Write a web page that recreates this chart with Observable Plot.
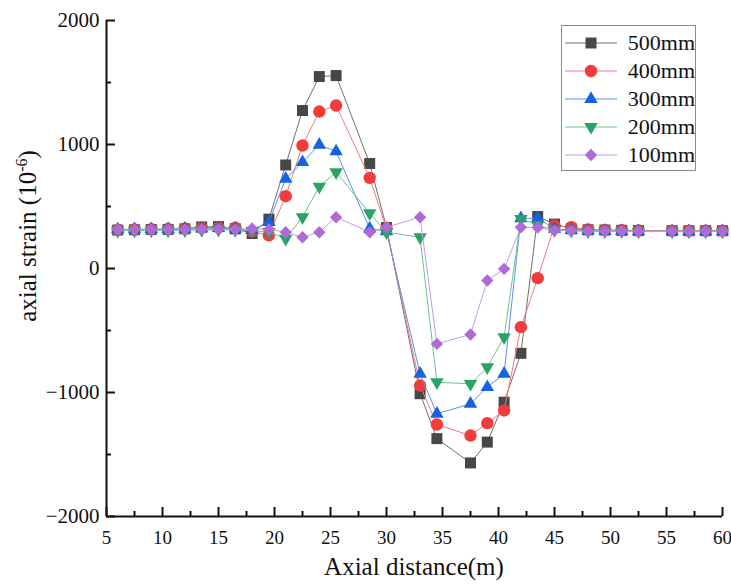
<!DOCTYPE html>
<html>
<head>
<meta charset="utf-8">
<script src="https://cdn.jsdelivr.net/npm/d3@7"></script>
<script src="https://cdn.jsdelivr.net/npm/@observablehq/plot@0.6"></script>
<style>
  html, body { margin: 0; padding: 0; background: #fff; }
  #wrap { position: relative; width: 731px; height: 585px; font-family: "Liberation Serif", "Times New Roman", serif; }
  #legend { position: absolute; left: 561px; top: 25px; width: 135px; height: 146px; border: 1px solid #8a8a8a; background: #fff; box-sizing: border-box; padding-top: 3px; }
  .row { display: flex; align-items: center; height: 28px; }
  .row span { font-size: 22px; color: #111; margin-left: 10px; }
</style>
</head>
<body>
<div id="wrap"><div id="chart"></div><div id="legend"></div></div>
<script>
// ---- data ----
const seriesNames = ["500mm", "400mm", "300mm", "200mm", "100mm"];
const xs = [6, 7.5, 9, 10.5, 12, 13.5, 15, 16.5, 18, 19.5, 21, 22.5, 24, 25.5, 28.5, 30,
            33, 34.5, 37.5, 39, 40.5, 42, 43.5, 45, 46.5, 48, 49.5, 51, 52.5, 55.5, 57, 58.5, 60];
const s500 = [310, 312, 315, 315, 320, 335, 338, 320, 282, 398, 835, 1274, 1548, 1556, 847, 330,
              -1010, -1372, -1568, -1400, -1078, -684, 419, 358, 320, 312, 310, 308, 306, 305, 305, 305, 305];
const s400 = [312, 314, 316, 318, 322, 328, 332, 330, 300, 268, 583, 992, 1266, 1314, 731, 320,
              -944, -1258, -1347, -1247, -1145, -473, -78, 347, 333, 315, 310, 308, 306, 305, 305, 305, 305];
const s300 = [315, 316, 317, 318, 320, 322, 325, 322, 310, 375, 723, 857, 997, 944, 322, 300,
              -850, -1172, -1091, -957, -850, 405, 405, 320, 310, 305, 303, 302, 300, 300, 300, 300, 300];
const s200 = [305, 306, 307, 307, 308, 310, 312, 310, 305, 295, 240, 414, 661, 777, 446, 293,
              252, -917, -930, -796, -554, 400, 350, 310, 305, 300, 300, 300, 298, 298, 298, 298, 298];
const s100 = [315, 315, 315, 315, 315, 316, 316, 315, 320, 315, 293, 252, 293, 414, 293, 333,
              414, -608, -532, -97, -3, 333, 330, 306, 305, 303, 302, 302, 300, 300, 300, 300, 300];
const allValues = [s500, s400, s300, s200, s100];
const xMajor = [5, 10, 15, 20, 25, 30, 35, 40, 45, 50, 55, 60];
const xMinor = [7.5, 12.5, 17.5, 22.5, 27.5, 32.5, 37.5, 42.5, 47.5, 52.5, 57.5];
const yMajor = [-2000, -1000, 0, 1000, 2000];
const yMinor = [-1500, -500, 500, 1500];
const xDomain = [5, 60];
const yDomain = [-2000, 2000];

// ---- styles ----
const triangleDown = {
  draw(context, size) {
    const s3 = Math.sqrt(3);
    const y = -Math.sqrt(size / (s3 * 3));
    context.moveTo(0, -y * 2);
    context.lineTo(-s3 * y, y);
    context.lineTo(s3 * y, y);
    context.closePath();
  }
};
const styles = [
  {fill: "#474747", line: "#6f6f6f", symbol: "square", r: 6.2},
  {fill: "#f23b3b", line: "#f47a7a", symbol: "circle", r: 6.2},
  {fill: "#1662e0", line: "#5b91e8", symbol: "triangle", r: 5.0},
  {fill: "#2ba363", line: "#6cc08e", symbol: triangleDown, r: 5.0},
  {fill: "#b06ad8", line: "#c59be6", symbol: "diamond2", r: 5.6}
];

const tables = allValues.map((vals, i) => xs.map((x, j) => ({x, y: vals[j], s: seriesNames[i]})));

const seriesMarks = [];
tables.forEach((t, i) => {
  seriesMarks.push(Plot.line(t, {x: "x", y: "y", stroke: styles[i].line, strokeWidth: 1}));
  seriesMarks.push(Plot.dot(t, {x: "x", y: "y", fill: styles[i].fill, symbol: styles[i].symbol, r: styles[i].r, stroke: "none"}));
});

const chart = Plot.plot({
  width: 731,
  height: 585,
  marginLeft: 106,
  marginRight: 9,
  marginTop: 20,
  marginBottom: 69,
  style: {fontFamily: "'Liberation Serif', 'Times New Roman', serif", color: "#111", background: "#fff"},
  x: {domain: xDomain},
  y: {domain: yDomain},
  marks: [
    ...seriesMarks,
    Plot.ruleX([xDomain[0]], {stroke: "#111", strokeWidth: 2}),
    Plot.ruleY([yDomain[0]], {stroke: "#111", strokeWidth: 2}),
    Plot.axisX(xMajor, {tickSize: 9, dy: -9, tickFormat: () => "", label: null, strokeWidth: 2, stroke: "#111"}),
    Plot.axisX(xMinor, {tickSize: 5, dy: -5, tickFormat: () => "", label: null, strokeWidth: 2, stroke: "#111"}),
    Plot.axisY(yMajor, {tickSize: 9, dx: 9, tickFormat: () => "", label: null, strokeWidth: 2, stroke: "#111"}),
    Plot.axisY(yMinor, {tickSize: 5, dx: 5, tickFormat: () => "", label: null, strokeWidth: 2, stroke: "#111"}),
    Plot.axisX(xMajor, {tickSize: 0, tickPadding: 14, fontSize: 19, label: null, tickFormat: d => String(d)}),
    Plot.axisY(yMajor, {tickSize: 0, tickPadding: 7, fontSize: 21, label: null, tickFormat: d => d < 0 ? "\u2212" + Math.abs(d) : String(d)})
  ]
});
document.getElementById("chart").appendChild(chart);

// axis titles
const svg = d3.select(chart);
svg.append("text")
  .attr("x", 414).attr("y", 575)
  .attr("text-anchor", "middle")
  .attr("font-size", 25)
  .attr("fill", "#111")
  .text("Axial distance(m)");
const yt = svg.append("text")
  .attr("transform", "translate(36,236) rotate(-90)")
  .attr("text-anchor", "middle")
  .attr("font-size", 25)
  .attr("fill", "#111");
yt.append("tspan").text("axial strain (10");
yt.append("tspan").attr("dy", -9).attr("font-size", 16).text("-6");
yt.append("tspan").attr("dy", 9).text(")");

// legend
const legend = d3.select("#legend");
seriesNames.forEach((name, i) => {
  const row = legend.append("div").attr("class", "row");
  const s = row.append("svg").attr("width", 56).attr("height", 28);
  s.append("line").attr("x1", 3).attr("x2", 55).attr("y1", 14).attr("y2", 14)
    .attr("stroke", styles[i].line).attr("stroke-width", 1);
  const sym = typeof styles[i].symbol === "string"
    ? {square: d3.symbolSquare, circle: d3.symbolCircle, triangle: d3.symbolTriangle, diamond2: d3.symbolDiamond2}[styles[i].symbol]
    : styles[i].symbol;
  s.append("path").attr("transform", "translate(29,14)")
    .attr("d", d3.symbol(sym, Math.PI * styles[i].r * styles[i].r)())
    .attr("fill", styles[i].fill);
  row.append("span").text(name);
});
</script>
</body>
</html>
